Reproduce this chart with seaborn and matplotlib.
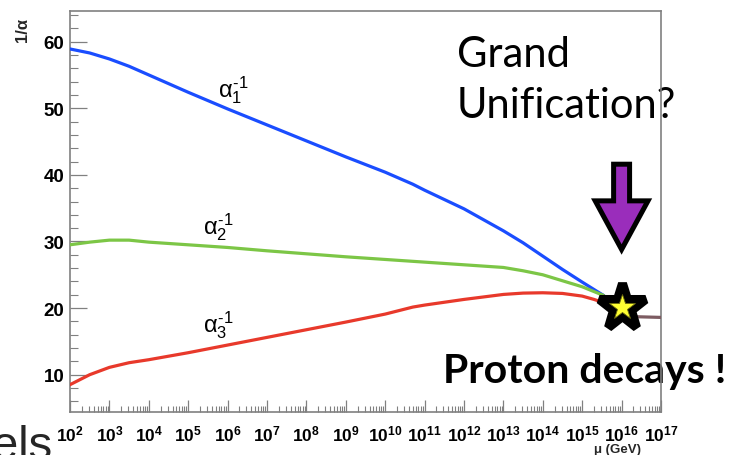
import numpy as np
import pandas as pd
import matplotlib
matplotlib.use("Agg")
import matplotlib.pyplot as plt
from matplotlib.ticker import FixedLocator, MultipleLocator, LogLocator, NullFormatter
import seaborn as sns

# ---- running inverse couplings, sampled at log10(mu / GeV) ----
log_mu_1 = [2, 2.5, 3, 3.5, 4, 5, 6, 7, 8, 9, 10, 10.7, 11, 12, 13, 13.5, 14, 14.5, 15, 15.54]
inv_alpha_1 = [58.9, 58.3, 57.4, 56.3, 55.0, 52.4, 49.9, 47.5, 45.1, 42.7, 40.4, 38.6, 37.7,
               34.9, 31.6, 29.8, 27.8, 25.8, 23.9, 21.9]

log_mu_2 = [2, 2.5, 3, 3.5, 4, 5, 6, 7, 8, 9, 10, 11, 12, 13, 13.5, 14, 14.5, 15, 15.54]
inv_alpha_2 = [29.5, 29.9, 30.2, 30.2, 29.9, 29.5, 29.1, 28.6, 28.15, 27.7, 27.3, 26.9, 26.5,
               26.1, 25.6, 25.0, 24.1, 23.2, 21.9]

log_mu_3 = [2, 2.5, 3, 3.5, 4, 5, 6, 7, 8, 9, 10, 10.7, 11, 12, 13, 13.5, 14, 14.5, 15, 15.3, 15.6]
inv_alpha_3 = [8.5, 10.0, 11.1, 11.8, 12.25, 13.3, 14.45, 15.6, 16.75, 17.9, 19.1, 20.15, 20.45,
               21.3, 22.05, 22.25, 22.3, 22.2, 21.8, 21.3, 20.7]

# single unified coupling above the GUT scale
log_mu_gut = [15.54, 16.0, 16.4, 17.0]
inv_alpha_gut = [21.9, 19.6, 18.7, 18.6]

# unification point
star_log_mu = 16.0
star_inv_alpha = 20.15

x_tick_exponents = list(range(2, 18))
y_ticks = [10, 20, 30, 40, 50, 60]

series_names = ["alpha1", "alpha2", "alpha3"]
series_colors = {"alpha1": "#1a4dff", "alpha2": "#7cc646", "alpha3": "#e8392b"}

frames = []
for name, lm, val in zip(series_names, [log_mu_1, log_mu_2, log_mu_3],
                         [inv_alpha_1, inv_alpha_2, inv_alpha_3]):
    frames.append(pd.DataFrame({"mu": 10.0 ** np.array(lm), "inv_alpha": val, "coupling": name}))
df = pd.concat(frames, ignore_index=True)
df_gut = pd.DataFrame({"mu": 10.0 ** np.array(log_mu_gut), "inv_alpha": inv_alpha_gut})

sns.set_theme(style="white")
plt.rcParams["font.family"] = ["Liberation Sans", "DejaVu Sans"]
plt.rcParams["mathtext.fontset"] = "custom"
plt.rcParams["mathtext.rm"] = "Liberation Sans"
plt.rcParams["mathtext.it"] = "Liberation Sans"
plt.rcParams["mathtext.bf"] = "Liberation Sans:bold"

W, H = 730, 456
fig = plt.figure(figsize=(W / 100, H / 100), dpi=100)
ax = fig.add_axes([70 / W, 1 - 413 / H, 591 / W, 401 / H])
ax.set_facecolor("white")

sns.lineplot(data=df, x="mu", y="inv_alpha", hue="coupling", palette=series_colors,
             estimator=None, sort=False, linewidth=2.3, legend=False, ax=ax, zorder=3)
sns.lineplot(data=df_gut, x="mu", y="inv_alpha", color="#7d5c62", estimator=None,
             sort=False, linewidth=2.3, legend=False, ax=ax, zorder=2.8)

ax.set_xscale("log")
ax.set_xlim(1e2, 1e17)
ax.set_ylim(4.4, 64.6)
ax.set_xlabel("")
ax.set_ylabel("")

# axis frame, ROOT-like: grey box with inward ticks on left/bottom only
for sp in ax.spines.values():
    sp.set_color("#808080")
    sp.set_linewidth(1.2)
    sp.set_visible(True)

ax.xaxis.set_major_locator(FixedLocator([10.0 ** e for e in x_tick_exponents]))
ax.set_xticklabels([r"$\mathbf{10^{%d}}$" % e for e in x_tick_exponents])
ax.xaxis.set_minor_locator(LogLocator(base=10, subs=np.arange(2, 10), numticks=200))
ax.xaxis.set_minor_formatter(NullFormatter())
ax.yaxis.set_major_locator(FixedLocator(y_ticks))
ax.set_yticklabels([str(v) for v in y_ticks])
ax.yaxis.set_minor_locator(MultipleLocator(2))

ax.tick_params(axis="x", which="major", direction="in", length=9, width=0.9, color="#808080",
               bottom=True, top=False, pad=8, labelsize=12.5)
ax.tick_params(axis="x", which="minor", direction="in", length=4.5, width=0.8, color="#808080",
               bottom=True, top=False)
ax.tick_params(axis="y", which="major", direction="in", length=12, width=0.9, color="#808080",
               left=True, right=False, pad=4, labelsize=13.5)
ax.tick_params(axis="y", which="minor", direction="in", length=6, width=0.8, color="#808080",
               left=True, right=False)
for lab in ax.get_yticklabels() + ax.get_xticklabels():
    lab.set_fontweight("bold")
    lab.set_color("black")

# coupling labels (superscript uses a plain hyphen)
label_kw = dict(fontsize=17, ha="left", va="baseline", color="black", zorder=4)
ax.text(10 ** 5.76, 51.85, "$\\alpha_{1}^{\u2010 1}$", **label_kw)
ax.text(10 ** 5.38, 31.15, "$\\alpha_{2}^{\u2010 1}$", **label_kw)
ax.text(10 ** 5.38, 16.45, "$\\alpha_{3}^{\u2010 1}$", **label_kw)

# unification star
ax.plot([10 ** star_log_mu], [star_inv_alpha], marker="*", ms=35, mfc="black", mec="black",
        mew=6.5, ls="none", zorder=6, solid_joinstyle="round")
ax.plot([10 ** star_log_mu], [star_inv_alpha], marker="*", ms=19, mfc="#ffff33", mec="#6b6b10",
        mew=0.6, ls="none", zorder=7)

# arrow pointing at the unification point
ax.annotate("", xy=(10 ** star_log_mu, 28.8), xytext=(10 ** star_log_mu, 41.6),
            arrowprops=dict(arrowstyle="simple,head_length=3.5,head_width=3.8,tail_width=1.15",
                            mutation_scale=10, fc="#9a2dbb", ec="black", lw=3.6,
                            shrinkA=0, shrinkB=0, joinstyle="miter"),
            zorder=6)

# slide annotations (drawn beneath the axis frame)
def fxy(px, py):
    return px / W, 1 - py / H

txt_kw = dict(transform=fig.transFigure, zorder=1, clip_on=False, color="black")
ax.text(*fxy(457, 67), "Grand", fontsize=30, family=["Lato", "DejaVu Sans"],
        ha="left", va="baseline", **txt_kw)
ax.text(*fxy(457, 118), "Unification?", fontsize=30, family=["Lato", "DejaVu Sans"],
        ha="left", va="baseline", **txt_kw)
ax.text(*fxy(443, 383), "Proton decays !", fontsize=29.5, fontweight="bold",
        family=["Lato", "DejaVu Sans"], ha="left", va="baseline", **txt_kw)

fig.text(*fxy(22, 30), "1/\u03b1", rotation=90, fontsize=12, fontweight="bold",
         ha="center", va="center")
fig.text(*fxy(617, 450), "\u03bc (GeV)", fontsize=9.5, fontweight="bold",
         ha="center", va="center")
fig.text(*fxy(-8, 459), "els", fontsize=34, ha="left", va="baseline")

fig.savefig("out.png", dpi=100, facecolor="white")
